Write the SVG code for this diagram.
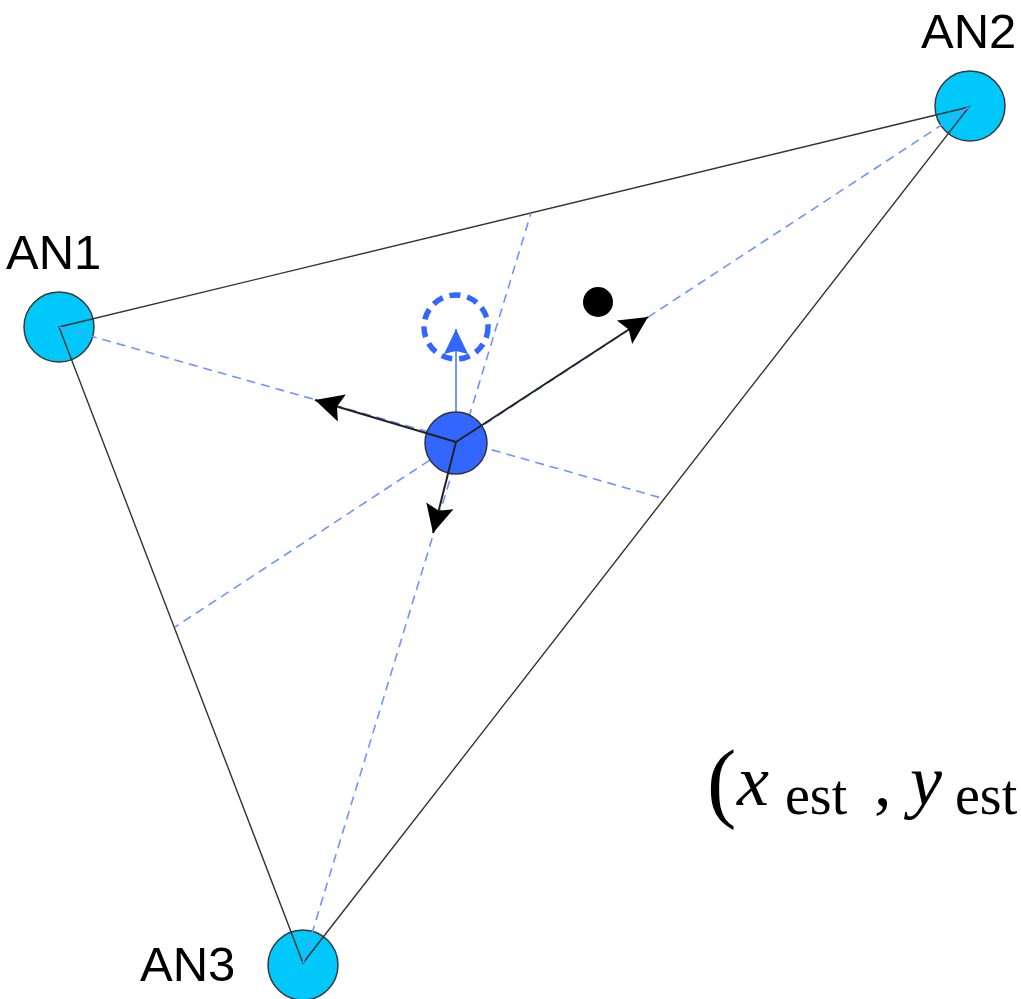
<svg xmlns="http://www.w3.org/2000/svg" width="1021" height="999" viewBox="0 0 1021 999">
  <style>
    .anchor { fill: #00c8fa; stroke: #3a3a3a; stroke-width: 1.5; }
    .label { font-family: "Liberation Sans", Arial, sans-serif; font-size: 49px; fill: #000; }
    .edge { stroke: #333; stroke-width: 1.4; fill: none; }
    .ray { stroke: #6f93ff; stroke-width: 1.6; stroke-dasharray: 9 6; fill: none; }
    .vec { stroke: #222; stroke-width: 2; fill: none; marker-end: url(#dart); }
    .math { font-family: "Liberation Serif", "Times New Roman", serif; fill: #000; }
  </style>
  <defs>
    <marker id="dart" viewBox="-30 -16 32 32" refX="0" refY="0" markerWidth="32" markerHeight="32" markerUnits="userSpaceOnUse" orient="auto">
      <path d="M0,0 L-28,-14 L-23,0 L-28,14 Z" fill="#000"/>
    </marker>
    <marker id="dartBlue" viewBox="-30 -16 32 32" refX="0" refY="0" markerWidth="32" markerHeight="32" markerUnits="userSpaceOnUse" orient="auto">
      <path d="M0,0 L-25,-12 L-22,0 L-25,12 Z" fill="#3366ff"/>
    </marker>
  </defs>

  <rect width="1021" height="999" fill="#fff"/>

  <!-- anchor nodes -->
  <g id="AN1">
    <circle class="anchor" cx="59" cy="327" r="35"/>
    <text class="label" x="6" y="269">AN1</text>
  </g>
  <g id="AN2">
    <circle class="anchor" cx="970" cy="106" r="35"/>
    <text class="label" x="921" y="48">AN2</text>
  </g>
  <g id="AN3">
    <circle class="anchor" cx="303" cy="965" r="35"/>
    <text class="label" x="140" y="981">AN3</text>
  </g>

  <!-- triangle edges and dashed rays through the tag -->
  <g id="connectors">
    <path class="edge" d="M59,327 L969,107 L303,963 Z"/>
    <line class="ray" x1="59" y1="327" x2="665" y2="499"/>
    <line class="ray" x1="969" y1="107" x2="175" y2="627"/>
    <line class="ray" x1="303" y1="963" x2="531" y2="213"/>
    <line x1="456" y1="412" x2="456" y2="329" stroke="#6f93ff" stroke-width="2" marker-end="url(#dartBlue)"/>
  </g>

  <!-- previous estimate (dashed ring) -->
  <g id="prev">
    <circle cx="456" cy="327" r="32" fill="none" stroke="#3366ff" stroke-width="5.5" stroke-dasharray="11 7"/>
  </g>

  <!-- true position -->
  <g id="truth">
    <circle cx="598" cy="302" r="15" fill="#000"/>
  </g>

  <!-- tag node -->
  <g id="tag">
    <circle cx="456" cy="443" r="31" fill="#3366ff" stroke="#333" stroke-width="1.5"/>
  </g>

  <!-- force vectors from the tag -->
  <g id="vectors">
    <line class="vec" x1="456" y1="442" x2="648" y2="317"/>
    <line class="vec" x1="456" y1="442" x2="315" y2="400"/>
    <line class="vec" x1="456" y1="442" x2="433" y2="533"/>
  </g>

  <!-- estimate coordinate label -->
  <g id="estimate">
    <text class="math" x="707" y="811" font-size="88">(</text>
    <text class="math" x="737" y="805" font-size="72" font-style="italic">x</text>
    <text class="math" x="785" y="814" font-size="56">est</text>
    <text class="math" x="874" y="805" font-size="70">,</text>
    <text class="math" x="910" y="805" font-size="72" font-style="italic">y</text>
    <text class="math" x="955" y="814" font-size="56">est</text>
  </g>
</svg>
